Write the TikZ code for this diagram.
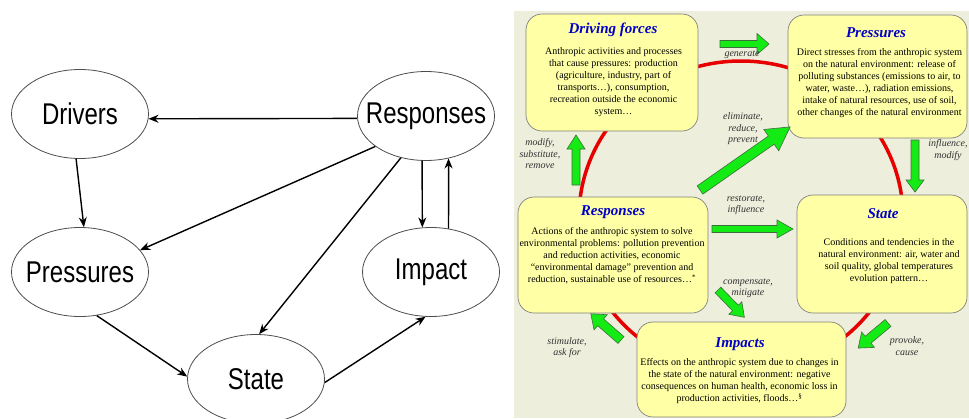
\documentclass[tikz,border=0pt]{standalone}
\usepackage{fontspec}
\setmainfont{Liberation Serif}
\newfontfamily\ellfont[FakeStretch=0.8]{Liberation Sans}
\usetikzlibrary{shapes.geometric, arrows.meta, positioning}

\definecolor{panelbg}{RGB}{238,238,220}
\definecolor{boxyellow}{RGB}{255,255,165}
\definecolor{titleblue}{RGB}{0,0,200}
\definecolor{verbgray}{RGB}{50,50,50}
\definecolor{arrowgreen}{RGB}{20,235,20}
\definecolor{arrowedge}{RGB}{60,110,60}
\definecolor{cyclered}{RGB}{230,0,0}

\begin{document}
\begin{tikzpicture}[x=1pt, y=-1pt,
    elly/.style={ellipse, draw=black!70, line width=0.8pt, minimum width=137pt, minimum height=89pt, inner sep=0pt},
    every label/.style={font=\ellfont\fontsize{30}{30}\selectfont, inner sep=0pt},
    link/.style={-{Stealth[length=10pt, width=8pt]}, line width=1.4pt},
    box/.style={draw=gray, fill=boxyellow, rounded corners=16pt, line width=0.7pt, inner sep=0pt},
    boxtitle/.style={font=\fontsize{15}{15}\selectfont\bfseries\itshape, text=titleblue, inner sep=0pt, anchor=base},
    boxtext/.style={font=\fontsize{10}{12}\selectfont, align=center, inner sep=0pt, anchor=north},
    verb/.style={font=\fontsize{10}{11.5}\selectfont\itshape, align=center, text=verbgray, inner sep=0pt},
    blockarrow/.style={fill=arrowgreen, draw=arrowedge, line width=0.6pt}]
        \useasboundingbox (0,0) rectangle (969,418);

        % Left: the plain DPSIR graph
        \node[elly, label=center:Drivers] (drv) at (80,114) {};
        \node[elly, label=center:Responses] (resp) at (426,116) {};
        \node[elly, label=center:Pressures] (press) at (80,272) {};
        \node[elly, label=center:Impact] (imp) at (431,272) {};
        \node[elly, label=center:State] (state) at (256,379) {};

        \draw[link] (resp.182) -- (drv.356);
        \draw[link] (drv.265) -- (press.85);
        \draw[link] (resp.211) -- (press.20);
        \draw[link] (resp.239) -- (state.86);
        \draw[link] (resp.265) -- (imp.101);
        \draw[link] (imp.68) -- (resp.298);
        \draw[link] (press.291) -- (state.178);
        \draw[link] (state.357) -- (imp.263);

        % Right: the annotated cycle
        \fill[panelbg] (514,11) rectangle (969,418);
        \draw[cyclered, line width=3.5pt] (741,217) ellipse [x radius=162, y radius=156];

        \node[box, minimum width=172pt, minimum height=117pt] (drvbox) at (612,72.5) {};
        \node[box, minimum width=179pt, minimum height=123pt] (pressbox) at (877.5,76.5) {};
        \node[box, minimum width=190pt, minimum height=116pt] (respbox) at (613,255) {};
        \node[box, minimum width=170pt, minimum height=118pt] (statebox) at (882,254) {};
        \node[box, minimum width=209pt, minimum height=95pt] (impbox) at (741.5,369.5) {};

        \node[boxtitle] (drvtitle) at (613,33.5) {Driving forces};
        \node[boxtitle] (presstitle) at (876,37.5) {Pressures};
        \node[boxtitle] (resptitle) at (613,215) {Responses};
        \node[boxtitle] (statetitle) at (883,218) {State};
        \node[boxtitle] (imptitle) at (740,347) {Impacts};

        \node[boxtext] (drvtext) at (613.5,47.4) {Anthropic activities and processes\\that cause pressures: production\\(agriculture, industry, part of\\transports\ldots), consumption,\\recreation outside the economic\\system\ldots};
        \node[boxtext] (presstext) at (879.5,48.4) {Direct stresses from the anthropic system\\on the natural environment: release of\\polluting substances (emissions to air, to\\water, waste\ldots), radiation emissions,\\intake of natural resources, use of soil,\\other changes of the natural environment};
        \node[boxtext] (resptext) at (612,227.4) {Actions of the anthropic system to solve\\environmental problems: pollution prevention\\and reduction activities, economic\\``environmental damage'' prevention and\\reduction, sustainable use of resources\ldots\textsuperscript{*}};
        \node[boxtext] (statetext) at (889,238.4) {Conditions and tendencies in the\\natural environment: air, water and\\soil quality, global temperatures\\evolution pattern\ldots};
        \node[boxtext] (imptext) at (739.5,358.4) {Effects on the anthropic system due to changes in\\the state of the natural environment: negative\\consequences on human health, economic loss in\\production activities, floods\ldots\textsuperscript{\S}};

        % Green block arrows: tail x / tail y / angle / length / shaft / head / head length
        \foreach \px/\py/\ang/\len/\sw/\hw/\hl in {720/44/0/49/3.5/10.5/12, 700/190/35/110/5/13/23,
            576/185/90/50/4/9/14, 915/140/-90/52/4/9/12, 712/229/0/81/3.5/9/16,
            718/290/-46/38/4/9/13, 621/340/139/40/4.5/10/13, 888/323/220/39/4.5/10/13}
        {
          \begin{scope}[shift={(\px,\py)}, rotate=\ang]
            \draw[blockarrow] (0,-\sw) -- ({\len-\hl},-\sw) -- ({\len-\hl},-\hw) -- (\len,0)
              -- ({\len-\hl},\hw) -- ({\len-\hl},\sw) -- (0,\sw) -- cycle;
          \end{scope}
        }

        \node[verb] (generate) at (742,55) {generate};
        \node[verb] (eliminate) at (743,129) {eliminate,\\reduce,\\prevent};
        \node[verb] (modify) at (540,154) {modify,\\substitute,\\remove};
        \node[verb] (influence) at (948,150) {influence,\\modify};
        \node[verb] (restorate) at (746,205) {restorate,\\influence};
        \node[verb] (compensate) at (748,288) {compensate,\\mitigate};
        \node[verb] (stimulate) at (567,347.5) {stimulate,\\ask for};
        \node[verb] (provoke) at (907,346) {provoke,\\cause};
      \end{tikzpicture}
\end{document}
